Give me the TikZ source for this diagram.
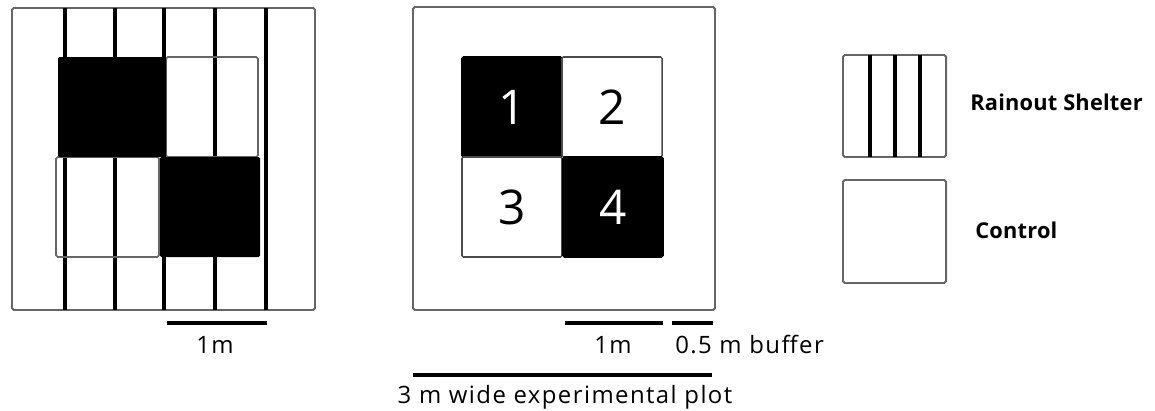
\documentclass[tikz,border=0pt]{standalone}
\usepackage{fontspec}
\setmainfont{Open Sans}[LetterSpace=6]
\usetikzlibrary{positioning}

\begin{document}
\begin{tikzpicture}[x=0.025cm,y=-0.025cm,
  frame/.style={draw=black!60,line width=1.4pt,rounded corners=1.2pt},
  pole/.style={line width=2.6pt},
  bar/.style={line width=2.4pt},
  cell/.style={draw=black!70,line width=1.1pt,rounded corners=1pt,minimum size=2.5cm,
    inner sep=0pt,font=\fontsize{34}{34}\selectfont},
  dark/.style={cell,fill=black,draw=black,text=white},
  lbl/.style={font=\fontsize{17}{17}\selectfont,inner sep=0pt},
  key/.style={font=\addfontfeature{LetterSpace=1}\fontsize{15.5}{15.5}\selectfont\bfseries,inner sep=0pt}]

\useasboundingbox (0,0) rectangle (1155,410);

% shelter plot
\draw[frame] (12,8) rectangle (315,310);
\foreach \x in {65,115,164,215,266}
  \draw[pole] (\x,8) -- (\x,310);
\draw[frame,line width=1.1pt] (166,57) rectangle (258,157);
\draw[frame,line width=1.1pt] (56,157) rectangle (159,257);
\fill[black,rounded corners=1pt] (58,57) rectangle (166,157);
\fill[black,rounded corners=1pt] (160,157) rectangle (260,257);

\coordinate (l1) at (167,323);
\coordinate (l2) at (267,323);
\draw[bar] (l1) -- (l2);
\node[lbl,anchor=base] (lm) at (215,353) {1m};

% experimental plot
\draw[frame] (413,7) rectangle (715,310);
\node[dark] (c1) at (512,107) {1};
\node[cell] (c2) at (612,107) {2};
\node[cell] (c3) at (512,207) {3};
\node[dark] (c4) at (613,207) {4};

\coordinate (m1) at (565,323);
\coordinate (m2) at (663,323);
\coordinate (b1) at (672,323);
\coordinate (b2) at (713,323);
\coordinate (p1) at (413,375);
\coordinate (p2) at (712,375);
\draw[bar] (m1) -- (m2);
\draw[bar] (b1) -- (b2);
\draw[bar] (p1) -- (p2);
\node[lbl,anchor=base] (mm) at (613,353) {1m};
\node[lbl,anchor=base west] (buf) at (675,353) {0.5 m buffer};
\node[lbl,anchor=base] (wide) at (565,403) {3 m wide experimental plot};

% legend
\draw[frame] (843,55) rectangle (946,157);
\foreach \x in {870,895,920}
  \draw[pole] (\x,55) -- (\x,157);
\draw[frame] (843,180) rectangle (946,283);
\node[key,anchor=west] (rain) at (970,102) {Rainout Shelter};
\node[key,anchor=west] (ctrl) at (975,230) {Control};
\end{tikzpicture}
\end{document}
